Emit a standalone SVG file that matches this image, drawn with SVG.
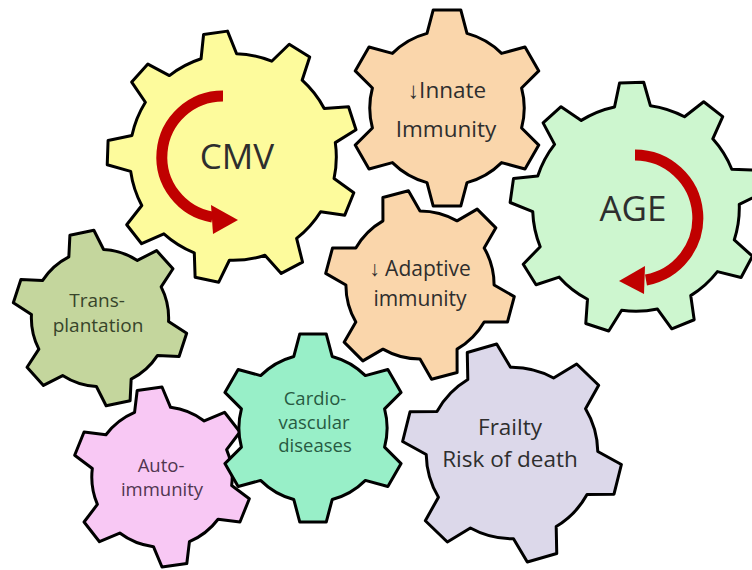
<svg xmlns="http://www.w3.org/2000/svg" xmlns:xlink="http://www.w3.org/1999/xlink" width="752" height="570" viewBox="0 0 752 570">
<style>
.gear{stroke:#000;stroke-width:3;stroke-linejoin:round}
.lbl{font-family:"Open Sans","Liberation Sans",sans-serif;text-anchor:middle;fill:#2e2e2e}
.arr{fill:none;stroke:#c00000;stroke-width:11}
.head{fill:#c00000}
</style>
<defs>
<path id="g9" vector-effect="non-scaling-stroke" d="M-14.24,-80.75 L-9.59,-99.54 L9.59,-99.54 L14.24,-80.75 A82,82 0 0 1 41,-71.01 L56.64,-82.41 L71.33,-70.09 L62.82,-52.71 A82,82 0 0 1 77.05,-28.05 L96.36,-26.72 L99.69,-7.85 L82,0 A82,82 0 0 1 77.05,28.05 L91,41.47 L81.41,58.07 L62.82,52.71 A82,82 0 0 1 41,71.01 L43.05,90.26 L25.04,96.82 L14.24,80.75 A82,82 0 0 1 -14.24,80.75 L-25.04,96.82 L-43.05,90.26 L-41,71.01 A82,82 0 0 1 -62.82,52.71 L-81.41,58.07 L-91,41.47 L-77.05,28.05 A82,82 0 0 1 -82,0 L-99.69,-7.85 L-96.36,-26.72 L-77.05,-28.05 A82,82 0 0 1 -62.82,-52.71 L-71.33,-70.09 L-56.64,-82.41 L-41,-71.01 A82,82 0 0 1 -14.24,-80.75 Z"/>
<path id="g6" vector-effect="non-scaling-stroke" d="M-20.19,-75.34 L-13.92,-99.03 L13.92,-99.03 L20.19,-75.34 A78,78 0 0 1 55.15,-55.15 L78.8,-61.57 L92.72,-37.46 L75.34,-20.19 A78,78 0 0 1 75.34,20.19 L92.72,37.46 L78.8,61.57 L55.15,55.15 A78,78 0 0 1 20.19,75.34 L13.92,99.03 L-13.92,99.03 L-20.19,75.34 A78,78 0 0 1 -55.15,55.15 L-78.8,61.57 L-92.72,37.46 L-75.34,20.19 A78,78 0 0 1 -75.34,-20.19 L-92.72,-37.46 L-78.8,-61.57 L-55.15,-55.15 A78,78 0 0 1 -20.19,-75.34 Z"/>
</defs>
<rect width="752" height="570" fill="#fff"/>
<g id="connectors"></g>
<g id="cmv">
<use href="#g9" class="gear" fill="#fdfb9c" transform="translate(233,157) rotate(-8) scale(1.26)"/>
<path class="arr" d="M223,96 A61,61 0 0 0 212.4,217.1"/>
<polygon class="head" points="211,205 238,220 213,234"/>
<text class="lbl" x="237" y="169" font-size="35">CMV</text>
</g>
<g id="innate">
<use href="#g6" class="gear" fill="#fad6ab" transform="translate(447,108) scale(0.99)"/>
<text class="lbl" x="447" y="98" font-size="22.5">↓Innate</text>
<text class="lbl" x="446" y="137" font-size="22.5">Immunity</text>
</g>
<g id="age">
<use href="#g9" class="gear" fill="#cdf6cf" transform="translate(636,208) rotate(-2) scale(1.26)"/>
<path class="arr" d="M635,155 A63,63 0 0 1 646,280"/>
<polygon class="head" points="645,266 619,281 644,294"/>
<text class="lbl" x="633" y="221" font-size="35">AGE</text>
</g>
<g id="adaptive">
<use href="#g6" class="gear" fill="#fad6ab" transform="translate(420,285) rotate(-15) scale(0.95)"/>
<text class="lbl" x="420" y="276" font-size="21">↓ Adaptive</text>
<text class="lbl" x="420" y="306" font-size="21">immunity</text>
</g>
<g id="transplantation">
<use href="#g6" class="gear" fill="#c4d69d" transform="translate(100,318) rotate(-12) scale(0.88)"/>
<text class="lbl" x="97" y="307" font-size="19" style="fill:#37442a">Trans-</text>
<text class="lbl" x="98" y="332" font-size="19" style="fill:#37442a">plantation</text>
</g>
<g id="autoimmunity">
<use href="#g6" class="gear" fill="#f8c8f4" transform="translate(162,477) rotate(-8) scale(0.9)"/>
<text class="lbl" x="161" y="472" font-size="18.5" style="fill:#503650">Auto-</text>
<text class="lbl" x="162" y="496" font-size="18.5" style="fill:#503650">immunity</text>
</g>
<g id="cardio">
<use href="#g6" class="gear" fill="#98efc8" transform="translate(313,428) scale(0.95)"/>
<text class="lbl" x="315" y="405" font-size="18.5" style="fill:#275a42">Cardio-</text>
<text class="lbl" x="314" y="429" font-size="18.5" style="fill:#275a42">vascular</text>
<text class="lbl" x="315" y="452" font-size="18.5" style="fill:#275a42">diseases</text>
</g>
<g id="frailty">
<use href="#g6" class="gear" fill="#dcd8ea" transform="translate(512,453) rotate(-16) scale(1.1)"/>
<text class="lbl" x="510" y="435" font-size="22.5">Frailty</text>
<text class="lbl" x="510" y="467" font-size="22.5">Risk of death</text>
</g>
</svg>
